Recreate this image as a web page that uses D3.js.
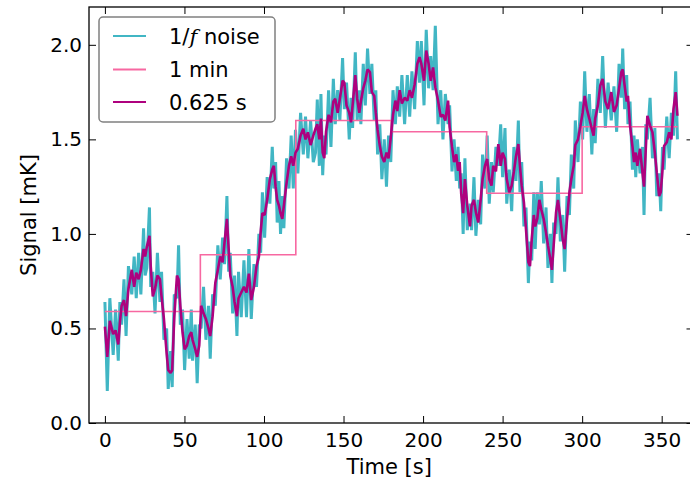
<!DOCTYPE html>
<html><head><meta charset="utf-8">
<script src="https://cdn.jsdelivr.net/npm/d3@7"></script>
<style>body{margin:0;background:#fff}svg{display:block}</style>
</head><body><svg id="c" width="690" height="482"></svg>
<script>
const timeS = [0,1.5,3.1,5.2,6.7,8.4,9.4,10.5,12,13.3,
14.8,16.9,18.4,19.7,21.2,22.6,24.3,25.3,26.3,28,
28.8,30.1,31.5,33,34.6,35.6,37.1,38.8,39.8,41.3,
42.3,43.6,45.3,46.3,47.4,48.8,50.1,51.6,53,54.3,
55.1,56.8,58,59.3,60.5,62,63.5,65.1,66.2,67.7,
69.4,71,72.5,74,75.2,76.7,77.8,78.8,80.3,81.5,
83,84,85.7,87.4,89,90.5,92,93.7,95.3,96.8,
97.9,99,100.4,102,103.7,105.2,106.2,107.3,108.3,109.4,
110.4,111.5,112.5,114.2,115.7,117.1,118.4,119.8,121.3,123,
124.7,126.1,127.6,129.3,131,132.4,133.5,134.8,135.8,136.9,
137.9,139,140.6,142.1,143.6,144.8,146.3,147.7,149.4,150.5,
151.9,153.6,154.7,155.7,157.4,158.6,159.9,160.9,162.4,163.7,
165.1,166.6,167.8,169.3,170.3,171.4,172.8,174.1,175.6,177,
178.3,179.7,181.1,182.6,183.8,185.3,186.7,188.4,190.1,191.6,
193,194.7,196.4,197.8,198.9,200.6,202,203.5,204.8,206.3,
207.7,209.4,211.1,212.5,214,215.7,216.7,218.2,219.5,220.9,
222,223,224,225.2,226.3,227.8,229.5,230.5,232,233.2,
234.7,236.2,237.4,238.9,240.3,241.6,243,244.1,245.8,247.3,
248.8,250,251.5,252.6,254.2,255.7,257.1,258.4,259.9,260.9,
262,263.4,264.7,266.2,267.2,268.3,269.6,270.5,271.8,273.1,
274.3,275.8,277.3,278.5,280,281,282.1,283.6,284.8,286.3,
287.8,289,290.5,292,293.2,294.7,295.7,297.4,298.9,300.3,
301.6,303,304.5,306.1,307.2,308.2,309.9,311.4,312.9,314.6,
316.3,318.3,320,321.7,323.2,324.6,325.5,326.7,328,328.8,
330.1,331.6,332.6,333.7,334.7,336.4,337.9,338.9,340,341,
342.7,344.2,345.7,346.9,348.4,349.4,350.5,351.5,353.2,354.7,
356.1,357.4,358.8,359.9];

const signal0625 = [.51,.35,.54,.47,.49,.415,.53,.62,.65,.565,
.71,.81,.72,.795,.76,.81,.92,.88,.93,.99,
.83,.67,.71,.78,.76,.67,.55,.37,.28,.265,
.28,.56,.78,.76,.62,.48,.39,.41,.46,.48,
.44,.39,.35,.41,.62,.58,.55,.50,.46,.565,
.74,.81,.88,.85,.955,1.08,.92,.78,.72,.64,
.565,.66,.69,.72,.69,.79,.65,.72,.83,.88,
1.01,1.11,1.10,1.18,1.29,1.34,1.36,1.25,1.18,1.15,
1.11,1.08,1.15,1.27,1.36,1.41,1.36,1.43,1.45,1.52,
1.556,1.50,1.537,1.47,1.52,1.556,1.58,1.50,1.61,1.43,
1.40,1.54,1.63,1.59,1.70,1.715,1.64,1.715,1.81,1.80,
1.68,1.64,1.59,1.68,1.84,1.715,1.64,1.70,1.77,1.81,
1.87,1.856,1.75,1.73,1.64,1.55,1.467,1.41,1.38,1.43,
1.40,1.51,1.63,1.705,1.65,1.76,1.69,1.72,1.705,1.76,
1.72,1.79,1.90,1.935,1.90,1.81,1.97,1.90,1.81,1.88,
1.776,1.705,1.62,1.63,1.60,1.705,1.565,1.46,1.38,1.42,
1.334,1.38,1.21,1.11,1.29,1.15,1.04,1.15,1.18,1.115,
1.06,1.18,1.29,1.36,1.396,1.29,1.255,1.36,1.33,1.475,
1.36,1.43,1.396,1.29,1.22,1.255,1.33,1.41,1.475,1.36,
1.255,1.166,1.025,.85,.83,.97,1.10,1.04,1.08,1.18,
1.13,1.08,1.007,.94,.866,.81,.94,1.113,1.18,1.08,
.97,.92,1.08,1.22,1.29,1.36,1.47,1.50,1.57,1.64,
1.73,1.66,1.61,1.555,1.52,1.61,1.68,1.785,1.82,1.70,
1.66,1.75,1.645,1.68,1.77,1.855,1.87,1.785,1.70,1.73,
1.573,1.465,1.38,1.43,1.36,1.45,1.325,1.25,1.45,1.625,
1.573,1.537,1.43,1.325,1.20,1.22,1.34,1.465,1.485,1.537,
1.50,1.66,1.75,1.625];

const signalNoise = [.64,.17,.66,.36,.60,.33,.64,.52,.76,.46,
.83,.68,.88,.66,.90,.68,1.03,.78,.82,1.14,
.72,.80,.58,.90,.64,.80,.44,.50,.18,.38,
.19,.68,.66,.94,.52,.60,.28,.55,.34,.60,
.33,.52,.21,.52,.50,.72,.44,.62,.34,.68,
.62,.94,.76,.98,.84,1.20,.80,.90,.58,.78,
.46,.80,.56,.86,.56,.92,.55,.84,.72,1.00,
.90,1.22,.98,1.30,1.16,1.46,1.24,1.38,1.06,1.28,
1.00,1.20,1.03,1.40,1.24,1.52,1.24,1.55,1.32,1.64,
1.42,1.62,1.40,1.60,1.38,1.43,1.71,1.36,1.74,1.31,
1.52,1.42,1.76,1.46,1.82,1.58,1.76,1.60,1.93,1.66,
1.80,1.50,1.72,1.56,1.96,1.60,1.76,1.58,1.90,1.68,
1.98,1.74,1.90,1.60,1.76,1.42,1.58,1.29,1.50,1.25,
1.52,1.38,1.76,1.58,1.78,1.62,1.84,1.58,1.84,1.62,
1.86,1.66,2.02,1.80,2.02,1.68,2.08,1.77,1.94,1.76,
2.10,1.58,1.76,1.50,1.74,1.58,1.68,1.33,1.50,1.28,
1.46,1.24,1.32,1.00,1.40,1.02,1.16,1.02,1.30,.99,
1.18,1.05,1.42,1.24,1.52,1.16,1.38,1.22,1.46,1.36,
1.58,1.30,1.56,1.16,1.34,1.12,1.46,1.28,1.60,1.22,
1.38,1.04,1.14,.74,.96,.86,1.22,.92,1.22,1.05,
1.28,.95,1.14,.82,1.00,.74,1.06,1.00,1.30,.96,
1.10,.80,1.20,1.10,1.42,1.24,1.60,1.38,1.70,1.50,
1.86,1.54,1.74,1.42,1.66,1.48,1.82,1.64,1.94,1.56,
1.80,1.60,1.78,1.54,1.90,1.72,1.98,1.66,1.84,1.58,
1.70,1.34,1.52,1.30,1.50,1.32,1.46,1.10,1.58,1.50,
1.72,1.40,1.56,1.20,1.32,1.12,1.46,1.34,1.62,1.40,
1.64,1.52,1.86,1.50];

const minuteEdges = [0, 60, 120, 180, 240, 300, 360];
const minuteMeans = [0.59, 0.89, 1.60, 1.54, 1.215, 1.567];

const xTicks = [0, 50, 100, 150, 200, 250, 300, 350];
const yTicks = [0.0, 0.5, 1.0, 1.5, 2.0];
const seriesNames = ["noise", "1 min", "0.625 s"];
const seriesColors = ["#41b6c4", "#f768a1", "#ae017e"];

const svg = d3.select("#c");
const FONT = "'DejaVu Sans', sans-serif";
const x = d3.scaleLinear().domain([-10, 370]).range([89, 693.5]);
const y = d3.scaleLinear().domain([0, 2.2]).range([423, 7]);

svg.append("defs").append("clipPath").attr("id", "clip")
  .append("rect").attr("x", x(-10)).attr("y", y(2.2))
  .attr("width", x(370) - x(-10)).attr("height", y(0) - y(2.2));

const plot = svg.append("g").attr("clip-path", "url(#clip)");

const noisePts = timeS.map((t, i) => [t, signalNoise[i]]);
const binPts = timeS.map((t, i) => [t, signal0625[i]]);
const stepPts = minuteEdges.map((t, i) => [t, minuteMeans[Math.min(i, minuteMeans.length - 1)]]);

const line = d3.line().x(d => x(d[0])).y(d => y(d[1]));
const stepLine = d3.line().x(d => x(d[0])).y(d => y(d[1])).curve(d3.curveStepAfter);

plot.append("path").attr("d", line(noisePts)).attr("fill", "none")
  .attr("stroke", seriesColors[0]).attr("stroke-width", 3).attr("stroke-linejoin", "bevel");
plot.append("path").attr("d", stepLine(stepPts)).attr("fill", "none")
  .attr("stroke", seriesColors[1]).attr("stroke-width", 1.6);
plot.append("path").attr("d", line(binPts)).attr("fill", "none")
  .attr("stroke", seriesColors[2]).attr("stroke-width", 2.6).attr("stroke-linejoin", "bevel");

function styleAxis(g) {
  g.select(".domain").remove();
  g.selectAll(".tick line").attr("stroke", "#000").attr("stroke-width", 1);
  g.selectAll(".tick text").attr("font-family", FONT).attr("font-size", 20).attr("fill", "#000");
}
svg.append("g").attr("transform", `translate(0,${y(0)})`)
  .call(d3.axisBottom(x).tickValues(xTicks).tickFormat(d3.format("d")).tickSizeInner(-7).tickSizeOuter(0).tickPadding(10))
  .call(styleAxis);
svg.append("g").attr("transform", `translate(0,${y(2.2)})`)
  .call(d3.axisTop(x).tickValues(xTicks).tickFormat("").tickSizeInner(-7).tickSizeOuter(0))
  .call(styleAxis);
svg.append("g").attr("transform", `translate(${x(-10)},0)`)
  .call(d3.axisLeft(y).tickValues(yTicks).tickFormat(d3.format(".1f")).tickSizeInner(-7).tickSizeOuter(0).tickPadding(7))
  .call(styleAxis);
svg.append("g").attr("transform", `translate(${x(370)},0)`)
  .call(d3.axisRight(y).tickValues(yTicks).tickFormat("").tickSizeInner(-7).tickSizeOuter(0))
  .call(styleAxis);

svg.append("rect").attr("x", x(-10)).attr("y", y(2.2))
  .attr("width", x(370) - x(-10)).attr("height", y(0) - y(2.2))
  .attr("fill", "none").attr("stroke", "#000").attr("stroke-width", 1.3);

svg.append("text").attr("x", (x(-10) + x(370)) / 2 - 2).attr("y", 474)
  .attr("text-anchor", "middle").attr("font-family", FONT).attr("font-size", 21)
  .text("Time [s]");
svg.append("text").attr("transform", `translate(36,${(y(0) + y(2.2)) / 2}) rotate(-90)`)
  .attr("text-anchor", "middle").attr("font-family", FONT).attr("font-size", 21)
  .text("Signal [mK]");

const lg = svg.append("g");
lg.append("rect").attr("x", 99).attr("y", 17).attr("width", 176).attr("height", 105)
  .attr("rx", 4).attr("fill", "#fff").attr("stroke", "#808080").attr("stroke-width", 1.5);
const rowsY = [36, 69.5, 102];
seriesNames.forEach((name, i) => {
  lg.append("line").attr("x1", 113).attr("x2", 146).attr("y1", rowsY[i]).attr("y2", rowsY[i])
    .attr("stroke", seriesColors[i]).attr("stroke-width", 2);
  const t = lg.append("text").attr("x", 169).attr("y", rowsY[i] + 7.6)
    .attr("font-family", FONT).attr("font-size", 21).attr("fill", "#000");
  if (i === 0) {
    t.append("tspan").text("1/");
    t.append("tspan").attr("font-family", "'DejaVu Serif', serif").attr("font-style", "italic").text("f");
    t.append("tspan").text(" " + name);
  } else {
    t.text(name);
  }
});
</script>
</body></html>
